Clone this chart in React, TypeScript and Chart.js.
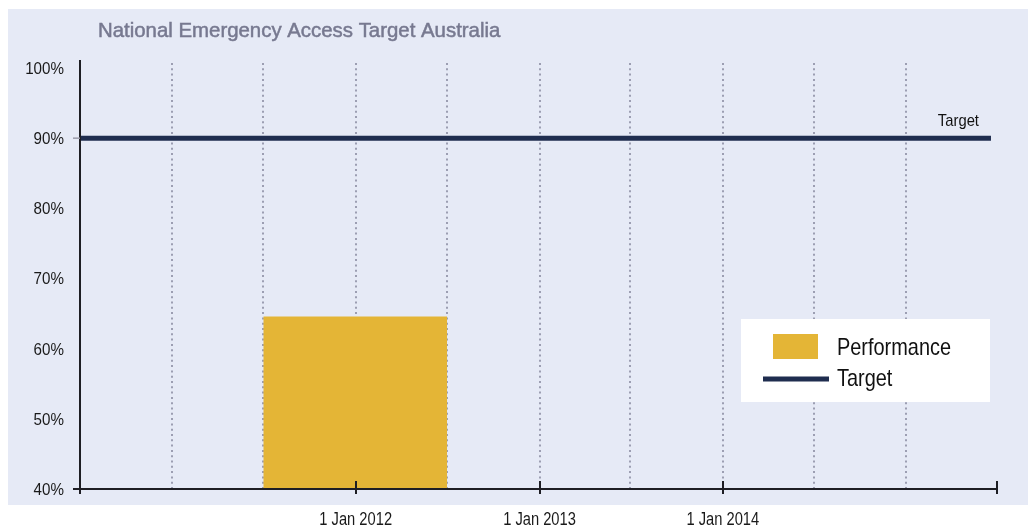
import React, { useEffect, useRef } from "react";
import { Chart, registerables } from "chart.js";

Chart.register(...registerables);

// ---- data ----
const chartTitle = "National Emergency Access Target Australia";
const categories = ["2011-12"];
const periodStart = ["2011-07-01"];
const periodEnd = ["2012-07-01"];
const performance = [64.6];
const targetValue = 90;
const targetRange = ["2010-07-01", "2015-06-19"];
const axisRange = ["2010-07-01", "2015-07-01"];
const gridDates = [
  "2011-01-01", "2011-07-01", "2012-01-01", "2012-07-01", "2013-01-01",
  "2013-07-01", "2014-01-01", "2014-07-01", "2015-01-01",
];
const xTickDates = ["2012-01-01", "2013-01-01", "2014-01-01"];
const xTickLabels = ["1 Jan 2012", "1 Jan 2013", "1 Jan 2014"];
const yTicks = [40, 50, 60, 70, 80, 90, 100];
const yRange = [40, 101.14];
const seriesNames = ["Performance", "Target"];

const day = (s: string) => Date.parse(s + "T00:00:00Z") / 86400000;

const SANS = '"Liberation Sans", Arial, sans-serif';
const BAR = "#e4b536";
const NAVY = "#1f2d4f";

function drawText(
  ctx: CanvasRenderingContext2D,
  text: string,
  x: number,
  y: number,
  size: number,
  sx: number,
  align: "left" | "right" | "center",
  color: string
) {
  ctx.save();
  ctx.font = `${size}px ${SANS}`;
  ctx.fillStyle = color;
  ctx.textBaseline = "alphabetic";
  ctx.textAlign = align;
  ctx.translate(x, y);
  ctx.scale(sx, 1);
  ctx.fillText(text, 0, 0);
  ctx.restore();
}

export default function App() {
  const ref = useRef<HTMLCanvasElement | null>(null);

  useEffect(() => {
    if (!ref.current) return;

    const perfData: { x: number; y: number }[] = [];
    categories.forEach((_, i) => {
      perfData.push({ x: day(periodStart[i]), y: performance[i] });
      perfData.push({ x: day(periodEnd[i]), y: performance[i] });
    });
    const targetData = targetRange.map((d) => ({ x: day(d), y: targetValue }));

    const deco = {
      id: "deco",
      beforeDraw(chart: any) {
        const { ctx } = chart;
        ctx.save();
        ctx.fillStyle = "#ffffff";
        ctx.fillRect(0, 0, chart.width, chart.height);
        ctx.fillStyle = "#e6eaf6";
        ctx.fillRect(8, 9, chart.width - 8, 496);
        ctx.font = `20.4px ${SANS}`;
        ctx.fillStyle = "#777990";
        ctx.strokeStyle = "#777990";
        ctx.lineWidth = 0.5;
        ctx.textBaseline = "alphabetic";
        ctx.textAlign = "left";
        ctx.fillText(chartTitle, 98, 36.5);
        ctx.strokeText(chartTitle, 98, 36.5);
        ctx.restore();
      },
      beforeDatasetsDraw(chart: any) {
        const { ctx, chartArea } = chart;
        const xs = chart.scales.x;
        ctx.save();
        ctx.strokeStyle = "#9c9eb2";
        ctx.lineWidth = 2;
        ctx.setLineDash([2, 3.3]);
        gridDates.forEach((d) => {
          const px = Math.round(xs.getPixelForValue(day(d)));
          ctx.beginPath();
          ctx.moveTo(px, chartArea.top + 3);
          ctx.lineTo(px, chartArea.bottom);
          ctx.stroke();
        });
        ctx.restore();
      },
      afterDraw(chart: any) {
        const { ctx, chartArea } = chart;
        const xs = chart.scales.x;
        const ys = chart.scales.y;
        const bottom = chartArea.bottom;
        ctx.save();
        ctx.setLineDash([]);
        ctx.strokeStyle = "#1e1e24";
        ctx.lineWidth = 2;
        // y axis
        ctx.beginPath();
        ctx.moveTo(chartArea.left, chartArea.top);
        ctx.lineTo(chartArea.left, bottom + 5);
        ctx.stroke();
        // x axis
        ctx.beginPath();
        ctx.moveTo(chartArea.left - 7, bottom);
        ctx.lineTo(chartArea.right, bottom);
        ctx.stroke();
        // tick marks
        const tickVals = [...xTickDates.map(day), day(axisRange[1])];
        tickVals.forEach((v) => {
          const px = Math.round(xs.getPixelForValue(v));
          ctx.beginPath();
          ctx.moveTo(px, bottom - 8);
          ctx.lineTo(px, bottom + 5);
          ctx.stroke();
        });
        // x tick labels
        xTickDates.forEach((d, i) => {
          const px = xs.getPixelForValue(day(d));
          drawText(ctx, xTickLabels[i], px, 525, 17.5, 0.84, "center", "#1a1a1a");
        });
        // y tick labels
        yTicks.forEach((v) => {
          const py = ys.getPixelForValue(v);
          drawText(ctx, `${v}%`, chartArea.left - 16, py + 6, 16.5, 0.92, "right", "#1a1a1a");
        });
        // gray tick at target
        const ty = ys.getPixelForValue(targetValue);
        ctx.strokeStyle = "#9a9aa8";
        ctx.lineWidth = 1.5;
        ctx.beginPath();
        ctx.moveTo(chartArea.left - 7, ty);
        ctx.lineTo(chartArea.left, ty);
        ctx.stroke();
        // target label
        const tEnd = xs.getPixelForValue(day(targetRange[1]));
        drawText(ctx, seriesNames[1], tEnd - 12, ty - 12, 17, 0.87, "right", "#111111");
        // legend
        const lx = 741, ly = 319;
        ctx.fillStyle = "#ffffff";
        ctx.fillRect(lx, ly, 249, 83);
        ctx.fillStyle = BAR;
        ctx.fillRect(lx + 32, ly + 15, 45, 25);
        ctx.strokeStyle = NAVY;
        ctx.lineWidth = 5;
        ctx.beginPath();
        ctx.moveTo(lx + 22, ly + 60);
        ctx.lineTo(lx + 88, ly + 60);
        ctx.stroke();
        drawText(ctx, seriesNames[0], lx + 96, ly + 36, 24, 0.83, "left", "#111111");
        drawText(ctx, seriesNames[1], lx + 96, ly + 67, 24, 0.83, "left", "#111111");
        ctx.restore();
      },
    };

    const chart = new Chart(ref.current, {
      type: "line",
      data: {
        datasets: [
          {
            label: seriesNames[1],
            data: targetData,
            borderColor: NAVY,
            borderWidth: 5,
            pointRadius: 0,
            fill: false,
            borderCapStyle: "butt",
          },
          {
            label: seriesNames[0],
            data: perfData,
            borderWidth: 0,
            borderColor: "rgba(0,0,0,0)",
            backgroundColor: BAR,
            pointRadius: 0,
            fill: "start",
          },
        ],
      },
      options: {
        animation: false,
        responsive: false,
        devicePixelRatio: 1,
        layout: { padding: { top: 60, right: 31, left: 0, bottom: 0 } },
        plugins: { legend: { display: false }, tooltip: { enabled: false }, title: { display: false } },
        scales: {
          x: {
            type: "linear",
            min: day(axisRange[0]),
            max: day(axisRange[1]),
            grid: { display: false, drawTicks: false },
            border: { display: false },
            afterBuildTicks: (scale: any) => {
              scale.ticks = xTickDates.map((d) => ({ value: day(d) }));
            },
            afterFit: (scale: any) => {
              scale.height = 40;
            },
            ticks: { display: false },
          },
          y: {
            type: "linear",
            min: yRange[0],
            max: yRange[1],
            grid: { display: false, drawTicks: false },
            border: { display: false },
            afterBuildTicks: (scale: any) => {
              scale.ticks = yTicks.map((v) => ({ value: v }));
            },
            afterFit: (scale: any) => {
              scale.width = 80;
            },
            ticks: { display: false },
          },
        },
      },
      plugins: [deco],
    } as any);

    return () => chart.destroy();
  }, []);

  return (
    <div style={{ position: "fixed", left: 0, top: 0, width: 1028, height: 529 }}>
      <canvas ref={ref} width={1028} height={529} style={{ width: 1028, height: 529, display: "block" }} />
    </div>
  );
}
